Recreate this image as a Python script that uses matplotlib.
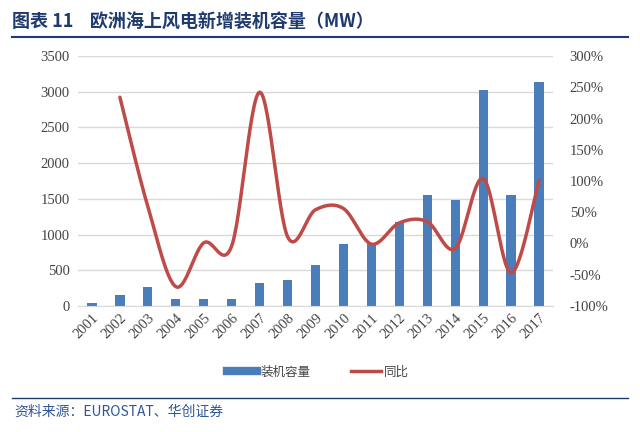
import numpy as np
import matplotlib
matplotlib.use("Agg")
import matplotlib.pyplot as plt
from matplotlib.lines import Line2D

years = [str(y) for y in range(2001, 2018)]
capacity = [45, 160, 262, 94, 94, 94, 318, 370, 580, 873, 864, 1177, 1560, 1480, 3020, 1560, 3137]
yoy_years = [str(y) for y in range(2002, 2018)]
yoy = [234, 59, -69, 1, -4, 242, 11, 54, 56, -1, 33, 35, -8, 104, -47, 101]

title = "图表 11    欧洲海上风电新增装机容量（MW）"
source = "资料来源：EUROSTAT、华创证券"
left_ticks = [0, 500, 1000, 1500, 2000, 2500, 3000, 3500]
right_ticks = [-100, -50, 0, 50, 100, 150, 200, 250, 300]

cjk = ['Noto Sans CJK SC', 'DejaVu Sans']
serif = ['Liberation Serif', 'DejaVu Serif']

fig = plt.figure(figsize=(6.4, 4.32), dpi=100)
W, H = 640, 432
ax = fig.add_axes([78 / W, 1 - 306 / H, (553 - 78) / W, (306 - 56) / H])

x = np.arange(len(years))
ax.bar(x, capacity, width=0.33, color='#4A7EBB', zorder=2)
ax.set_xlim(-0.5, len(years) - 0.5)
ax.set_ylim(0, 3500)
ax.set_yticks(left_ticks)
ax.set_yticklabels([str(t) for t in left_ticks], family=serif, fontsize=10.5, color='#444444')
ax.set_xticks(x)
ax.set_xticklabels(years, rotation=45, ha='right', rotation_mode='anchor',
                   family=serif, fontsize=10.5, color='#444444')
ax.grid(axis='y', color='#D9D9D9', linewidth=1, zorder=0)
for s in ax.spines.values():
    s.set_visible(False)
ax.spines['bottom'].set_visible(True)
ax.spines['bottom'].set_color('#D9D9D9')
ax.tick_params(axis='both', length=0, pad=6)
ax.tick_params(axis='x', pad=4)

ax2 = ax.twinx()
ax2.set_ylim(-100, 300)
ax2.set_yticks(right_ticks)
ax2.set_yticklabels([f"{t}%" for t in right_ticks], family=serif, fontsize=10.5, color='#444444')
ax2.tick_params(axis='y', length=0, pad=12)
for s in ax2.spines.values():
    s.set_visible(False)

# Smooth curve through the data points (Catmull-Rom, like Excel smoothed lines)
px = np.array([years.index(y) for y in yoy_years], dtype=float)
py = np.array(yoy, dtype=float)
P = np.column_stack([px, py])
Pe = np.vstack([P[0], P, P[-1]])
curve = []
for i in range(1, len(Pe) - 2):
    p0, p1, p2, p3 = Pe[i - 1], Pe[i], Pe[i + 1], Pe[i + 2]
    c1 = p1 + (p2 - p0) / 6.0
    c2 = p2 - (p3 - p1) / 6.0
    t = np.linspace(0, 1, 30)[:, None]
    seg = (1 - t) ** 3 * p1 + 3 * (1 - t) ** 2 * t * c1 + 3 * (1 - t) * t ** 2 * c2 + t ** 3 * p2
    curve.append(seg if i == 1 else seg[1:])
curve = np.vstack(curve)
ax2.plot(curve[:, 0], curve[:, 1], color='#BE4B48', linewidth=2.5, solid_capstyle='round', zorder=3)

# Legend
handles = [Line2D([], [], color='#4A7EBB', linewidth=6),
           Line2D([], [], color='#BE4B48', linewidth=2.5)]
fig.legend(handles, ['装机容量', '同比'], loc='center', bbox_to_anchor=(318 / W, 1 - 372 / H),
           ncol=2, frameon=False, prop={'family': cjk, 'size': 9}, handlelength=2.4,
           columnspacing=3.2, handletextpad=0.3, labelcolor='#444444')

# Title and source
fig.text(12 / W, 1 - 22 / H, title, family=cjk, fontsize=13, fontweight='bold',
         color='#1F3A6E', va='center', ha='left')
fig.add_artist(Line2D([12 / W, 628 / W], [1 - 37 / H, 1 - 37 / H], color='#1F3A6E', linewidth=1.5))
fig.add_artist(Line2D([12 / W, 628 / W], [1 - 398 / H, 1 - 398 / H], color='#1F3A6E', linewidth=1.0))
fig.text(14 / W, 1 - 412 / H, source, family=cjk, fontsize=10, style='italic',
         color='#2F5597', va='center', ha='left')

fig.savefig('out.png', dpi=100)
